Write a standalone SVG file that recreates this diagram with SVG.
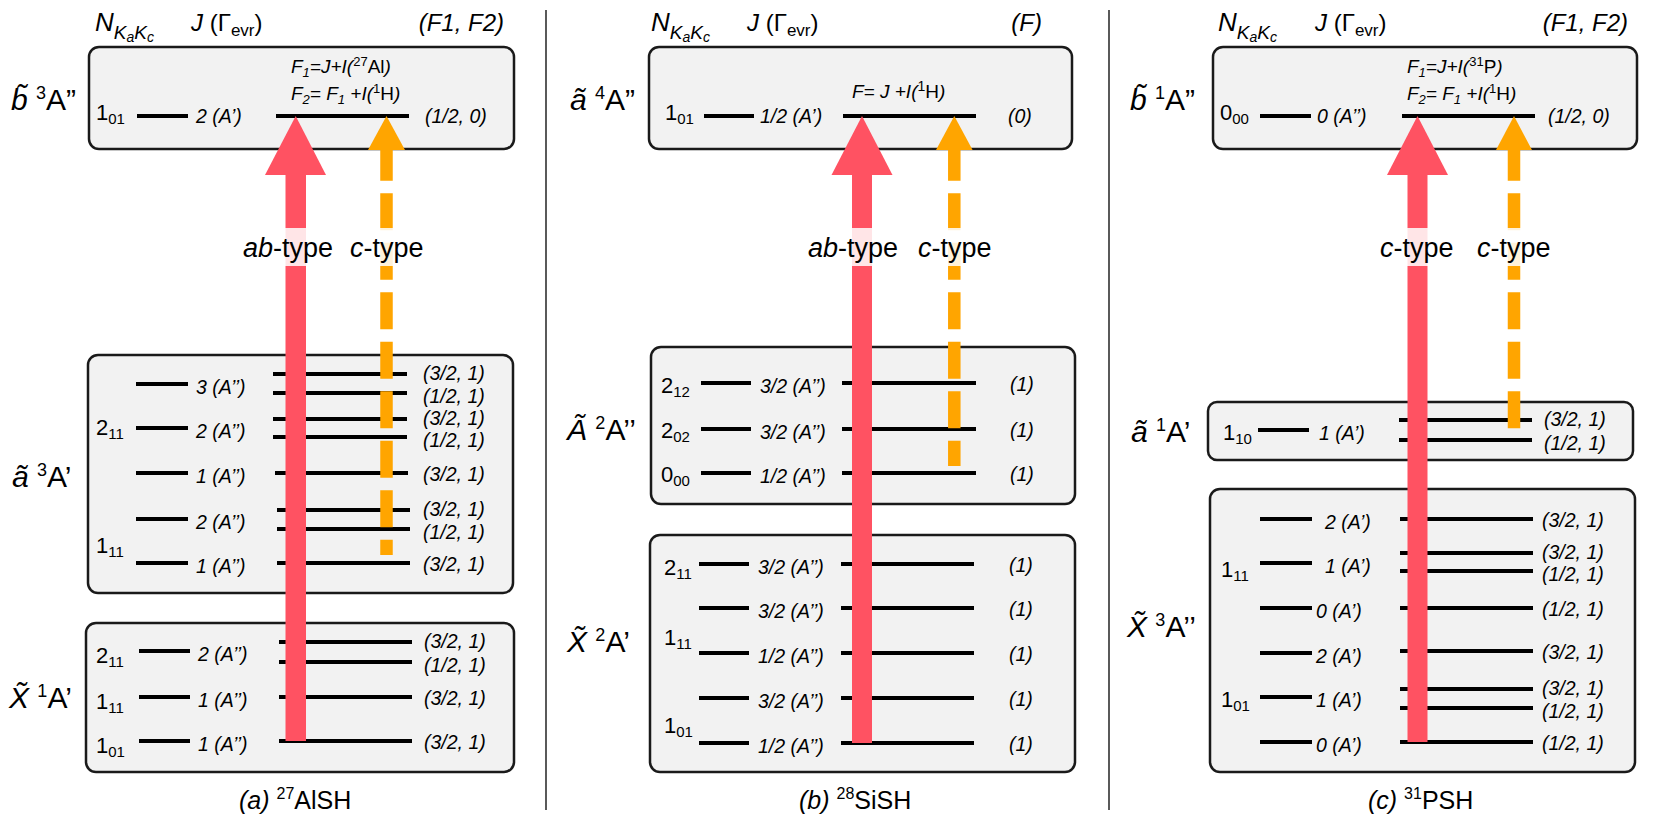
<svg xmlns="http://www.w3.org/2000/svg" width="1661" height="830" viewBox="0 0 1661 830">
<defs>
<style>
.box{fill:#F2F2F2;stroke:#1a1a1a;stroke-width:2.5}
.lv{stroke:#000;stroke-width:4}
.t{font-family:"Liberation Sans",Arial,sans-serif;fill:#000}
.i{font-style:italic}
.st{font-size:30px}
.hd{font-size:24px}
.lb{font-size:19.5px;font-style:italic}
.n{font-size:22px}
.cap{font-size:25px}
.fm{font-size:19px;font-style:italic}
.ty{font-size:27px}
.red{fill:#FF5262}
.org{fill:#FFA500}
.dash{stroke:#FFA500;stroke-width:12.5;stroke-dasharray:37 12.5;stroke-dashoffset:6.3;fill:none}
.bg{fill:#fff;fill-opacity:0.85}
.div{stroke:#000;stroke-width:1.3}
</style>
</defs>
<rect width="1661" height="830" fill="#fff"/>
<g id="dividers">
<line class="div" x1="546" y1="10" x2="546" y2="810"/>
<line class="div" x1="1109" y1="10" x2="1109" y2="810"/>
</g>

<!-- ================= PANEL A ================= -->
<g id="a-header">
<text class="t hd" x="95" y="31"><tspan class="i" font-size="26">N</tspan><tspan class="i" font-size="19" dy="8">K</tspan><tspan class="i" font-size="14" dy="3">a</tspan><tspan class="i" font-size="19" dy="-3">K</tspan><tspan class="i" font-size="14" dy="3">c</tspan></text>
<text class="t hd" x="191" y="31"><tspan class="i">J</tspan> (Γ<tspan font-size="17" dy="5">evr</tspan><tspan dy="-5">)</tspan></text>
<text class="t hd i" x="504" y="31" text-anchor="end">(F1, F2)</text>
</g>
<g id="a-b-state">
<rect class="box" x="89" y="47" width="425" height="102" rx="10"/>
<text class="t st" x="11" y="110"><tspan class="i">b̃</tspan> <tspan font-size="18" dy="-11">3</tspan><tspan dy="11">A”</tspan></text>
<text class="t fm" x="291" y="73">F<tspan font-size="13" dy="4">1</tspan><tspan dy="-4">=J+I(</tspan><tspan font-size="13" dy="-7" font-style="normal">27</tspan><tspan dy="7" font-style="normal">Al</tspan>)</text>
<text class="t fm" x="291" y="100">F<tspan font-size="13" dy="4">2</tspan><tspan dy="-4">= F</tspan><tspan font-size="13" dy="4">1</tspan><tspan dy="-4"> +I(</tspan><tspan font-size="13" dy="-7" font-style="normal">1</tspan><tspan dy="7" font-style="normal">H</tspan>)</text>
<text class="t n" x="96" y="120">1<tspan font-size="15" dy="4">01</tspan></text>
<line class="lv" x1="137" y1="116" x2="188" y2="116"/>
<text class="t lb" x="196" y="123">2 (A’)</text>
<line class="lv" x1="276" y1="116" x2="409" y2="116"/>
<text class="t lb" x="425" y="123">(1/2, 0)</text>
</g>
<g id="a-a-state">
<rect class="box" x="88" y="355" width="425" height="238" rx="10"/>
<text class="t st" x="12" y="487"><tspan class="i">ã</tspan> <tspan font-size="18" dy="-11">3</tspan><tspan dy="11">A’</tspan></text>
<text class="t n" x="96" y="435">2<tspan font-size="15" dy="4">11</tspan></text>
<text class="t n" x="96" y="553">1<tspan font-size="15" dy="4">11</tspan></text>
<line class="lv" x1="136" y1="384" x2="188" y2="384"/>
<line class="lv" x1="136" y1="428" x2="188" y2="428"/>
<line class="lv" x1="136" y1="473" x2="188" y2="473"/>
<line class="lv" x1="136" y1="519" x2="188" y2="519"/>
<line class="lv" x1="136" y1="563" x2="188" y2="563"/>
<text class="t lb" x="196" y="394">3 (A’’)</text>
<text class="t lb" x="196" y="438">2 (A’’)</text>
<text class="t lb" x="196" y="483">1 (A’’)</text>
<text class="t lb" x="196" y="529">2 (A’’)</text>
<text class="t lb" x="196" y="573">1 (A’’)</text>
<line class="lv" x1="273" y1="374" x2="407" y2="374"/>
<line class="lv" x1="273" y1="393" x2="407" y2="393"/>
<line class="lv" x1="273" y1="419" x2="407" y2="419"/>
<line class="lv" x1="273" y1="437" x2="407" y2="437"/>
<line class="lv" x1="275" y1="473" x2="408" y2="473"/>
<line class="lv" x1="277" y1="510" x2="410" y2="510"/>
<line class="lv" x1="277" y1="529" x2="410" y2="529"/>
<line class="lv" x1="277" y1="563" x2="410" y2="563"/>
<text class="t lb" x="423" y="380">(3/2, 1)</text>
<text class="t lb" x="423" y="403">(1/2, 1)</text>
<text class="t lb" x="423" y="425">(3/2, 1)</text>
<text class="t lb" x="423" y="447">(1/2, 1)</text>
<text class="t lb" x="423" y="481">(3/2, 1)</text>
<text class="t lb" x="423" y="516">(3/2, 1)</text>
<text class="t lb" x="423" y="539">(1/2, 1)</text>
<text class="t lb" x="423" y="571">(3/2, 1)</text>
</g>
<g id="a-X-state">
<rect class="box" x="86" y="623" width="428" height="149" rx="10"/>
<text class="t st" x="9" y="708"><tspan class="i">X̃</tspan> <tspan font-size="18" dy="-11">1</tspan><tspan dy="11">A’</tspan></text>
<text class="t n" x="96" y="663">2<tspan font-size="15" dy="4">11</tspan></text>
<text class="t n" x="96" y="709">1<tspan font-size="15" dy="4">11</tspan></text>
<text class="t n" x="96" y="753">1<tspan font-size="15" dy="4">01</tspan></text>
<line class="lv" x1="139" y1="651" x2="190" y2="651"/>
<line class="lv" x1="139" y1="697" x2="190" y2="697"/>
<line class="lv" x1="139" y1="741" x2="190" y2="741"/>
<text class="t lb" x="198" y="661">2 (A’’)</text>
<text class="t lb" x="198" y="707">1 (A’’)</text>
<text class="t lb" x="198" y="751">1 (A’’)</text>
<line class="lv" x1="279" y1="642" x2="412" y2="642"/>
<line class="lv" x1="279" y1="662" x2="412" y2="662"/>
<line class="lv" x1="279" y1="697" x2="412" y2="697"/>
<line class="lv" x1="279" y1="741" x2="412" y2="741"/>
<text class="t lb" x="424" y="648">(3/2, 1)</text>
<text class="t lb" x="424" y="672">(1/2, 1)</text>
<text class="t lb" x="424" y="705">(3/2, 1)</text>
<text class="t lb" x="424" y="749">(3/2, 1)</text>
</g>
<g id="a-caption">
<text class="t cap" x="239" y="809"><tspan class="i">(a)</tspan> <tspan font-size="16" dy="-10">27</tspan><tspan dy="10">AlSH</tspan></text>
</g>

<!-- ================= PANEL B ================= -->
<g id="b-header">
<text class="t hd" x="651" y="31"><tspan class="i" font-size="26">N</tspan><tspan class="i" font-size="19" dy="8">K</tspan><tspan class="i" font-size="14" dy="3">a</tspan><tspan class="i" font-size="19" dy="-3">K</tspan><tspan class="i" font-size="14" dy="3">c</tspan></text>
<text class="t hd" x="747" y="31"><tspan class="i">J</tspan> (Γ<tspan font-size="17" dy="5">evr</tspan><tspan dy="-5">)</tspan></text>
<text class="t hd i" x="1042" y="31" text-anchor="end">(F)</text>
</g>
<g id="b-a-state">
<rect class="box" x="649" y="47" width="423" height="102" rx="10"/>
<text class="t st" x="570" y="110"><tspan class="i">ã</tspan> <tspan font-size="18" dy="-11">4</tspan><tspan dy="11">A”</tspan></text>
<text class="t fm" x="852" y="98" font-size="20">F= J +I(<tspan font-size="14" dy="-7" font-style="normal">1</tspan><tspan dy="7" font-style="normal">H</tspan>)</text>
<text class="t n" x="665" y="120">1<tspan font-size="15" dy="4">01</tspan></text>
<line class="lv" x1="704" y1="116" x2="754" y2="116"/>
<text class="t lb" x="760" y="123">1/2 (A’)</text>
<line class="lv" x1="843" y1="116" x2="976" y2="116"/>
<text class="t lb" x="1008" y="123">(0)</text>
</g>
<g id="b-A-state">
<rect class="box" x="651" y="347" width="424" height="157" rx="10"/>
<text class="t st" x="567" y="440"><tspan class="i">Ã</tspan> <tspan font-size="18" dy="-11">2</tspan><tspan dy="11">A’’</tspan></text>
<text class="t n" x="661" y="393">2<tspan font-size="15" dy="4">12</tspan></text>
<text class="t n" x="661" y="438">2<tspan font-size="15" dy="4">02</tspan></text>
<text class="t n" x="661" y="482">0<tspan font-size="15" dy="4">00</tspan></text>
<line class="lv" x1="701" y1="383" x2="751" y2="383"/>
<line class="lv" x1="701" y1="429" x2="751" y2="429"/>
<line class="lv" x1="701" y1="473" x2="751" y2="473"/>
<text class="t lb" x="760" y="393">3/2 (A’’)</text>
<text class="t lb" x="760" y="439">3/2 (A’’)</text>
<text class="t lb" x="760" y="483">1/2 (A’’)</text>
<line class="lv" x1="842" y1="383" x2="976" y2="383"/>
<line class="lv" x1="842" y1="429" x2="976" y2="429"/>
<line class="lv" x1="842" y1="473" x2="976" y2="473"/>
<text class="t lb" x="1010" y="391">(1)</text>
<text class="t lb" x="1010" y="437">(1)</text>
<text class="t lb" x="1010" y="481">(1)</text>
</g>
<g id="b-X-state">
<rect class="box" x="650" y="535" width="425" height="237" rx="10"/>
<text class="t st" x="567" y="652"><tspan class="i">X̃</tspan> <tspan font-size="18" dy="-11">2</tspan><tspan dy="11">A’</tspan></text>
<text class="t n" x="664" y="575">2<tspan font-size="15" dy="4">11</tspan></text>
<text class="t n" x="664" y="645">1<tspan font-size="15" dy="4">11</tspan></text>
<text class="t n" x="664" y="733">1<tspan font-size="15" dy="4">01</tspan></text>
<line class="lv" x1="699" y1="564" x2="749" y2="564"/>
<line class="lv" x1="699" y1="608" x2="749" y2="608"/>
<line class="lv" x1="699" y1="653" x2="749" y2="653"/>
<line class="lv" x1="699" y1="698" x2="749" y2="698"/>
<line class="lv" x1="699" y1="743" x2="749" y2="743"/>
<text class="t lb" x="758" y="574">3/2 (A’’)</text>
<text class="t lb" x="758" y="618">3/2 (A’’)</text>
<text class="t lb" x="758" y="663">1/2 (A’’)</text>
<text class="t lb" x="758" y="708">3/2 (A’’)</text>
<text class="t lb" x="758" y="753">1/2 (A’’)</text>
<line class="lv" x1="841" y1="564" x2="974" y2="564"/>
<line class="lv" x1="841" y1="608" x2="974" y2="608"/>
<line class="lv" x1="841" y1="653" x2="974" y2="653"/>
<line class="lv" x1="841" y1="698" x2="974" y2="698"/>
<line class="lv" x1="841" y1="743" x2="974" y2="743"/>
<text class="t lb" x="1009" y="572">(1)</text>
<text class="t lb" x="1009" y="616">(1)</text>
<text class="t lb" x="1009" y="661">(1)</text>
<text class="t lb" x="1009" y="706">(1)</text>
<text class="t lb" x="1009" y="751">(1)</text>
</g>
<g id="b-caption">
<text class="t cap" x="799" y="809"><tspan class="i">(b)</tspan> <tspan font-size="16" dy="-10">28</tspan><tspan dy="10">SiSH</tspan></text>
</g>

<!-- ================= PANEL C ================= -->
<g id="c-header">
<text class="t hd" x="1218" y="31"><tspan class="i" font-size="26">N</tspan><tspan class="i" font-size="19" dy="8">K</tspan><tspan class="i" font-size="14" dy="3">a</tspan><tspan class="i" font-size="19" dy="-3">K</tspan><tspan class="i" font-size="14" dy="3">c</tspan></text>
<text class="t hd" x="1315" y="31"><tspan class="i">J</tspan> (Γ<tspan font-size="17" dy="5">evr</tspan><tspan dy="-5">)</tspan></text>
<text class="t hd i" x="1628" y="31" text-anchor="end">(F1, F2)</text>
</g>
<g id="c-b-state">
<rect class="box" x="1213" y="47" width="424" height="102" rx="10"/>
<text class="t st" x="1130" y="110"><tspan class="i">b̃</tspan> <tspan font-size="18" dy="-11">1</tspan><tspan dy="11">A”</tspan></text>
<text class="t fm" x="1407" y="73">F<tspan font-size="13" dy="4">1</tspan><tspan dy="-4">=J+I(</tspan><tspan font-size="13" dy="-7" font-style="normal">31</tspan><tspan dy="7" font-style="normal">P</tspan>)</text>
<text class="t fm" x="1407" y="100">F<tspan font-size="13" dy="4">2</tspan><tspan dy="-4">= F</tspan><tspan font-size="13" dy="4">1</tspan><tspan dy="-4"> +I(</tspan><tspan font-size="13" dy="-7" font-style="normal">1</tspan><tspan dy="7" font-style="normal">H</tspan>)</text>
<text class="t n" x="1220" y="120">0<tspan font-size="15" dy="4">00</tspan></text>
<line class="lv" x1="1260" y1="116" x2="1311" y2="116"/>
<text class="t lb" x="1317" y="123">0 (A’’)</text>
<line class="lv" x1="1402" y1="116" x2="1535" y2="116"/>
<text class="t lb" x="1548" y="123">(1/2, 0)</text>
</g>
<g id="c-a-state">
<rect class="box" x="1208" y="402" width="425" height="58" rx="9"/>
<text class="t st" x="1131" y="442"><tspan class="i">ã</tspan> <tspan font-size="18" dy="-11">1</tspan><tspan dy="11">A’</tspan></text>
<text class="t n" x="1223" y="440">1<tspan font-size="15" dy="4">10</tspan></text>
<line class="lv" x1="1258" y1="430" x2="1309" y2="430"/>
<text class="t lb" x="1319" y="440">1 (A’)</text>
<line class="lv" x1="1399" y1="420" x2="1532" y2="420"/>
<line class="lv" x1="1399" y1="440" x2="1532" y2="440"/>
<text class="t lb" x="1544" y="426">(3/2, 1)</text>
<text class="t lb" x="1544" y="450">(1/2, 1)</text>
</g>
<g id="c-X-state">
<rect class="box" x="1210" y="489" width="425" height="283" rx="10"/>
<text class="t st" x="1127" y="637"><tspan class="i">X̃</tspan> <tspan font-size="18" dy="-11">3</tspan><tspan dy="11">A’’</tspan></text>
<text class="t n" x="1221" y="577">1<tspan font-size="15" dy="4">11</tspan></text>
<text class="t n" x="1221" y="707">1<tspan font-size="15" dy="4">01</tspan></text>
<line class="lv" x1="1260" y1="519" x2="1312" y2="519"/>
<line class="lv" x1="1260" y1="563" x2="1312" y2="563"/>
<line class="lv" x1="1260" y1="608" x2="1312" y2="608"/>
<line class="lv" x1="1260" y1="653" x2="1312" y2="653"/>
<line class="lv" x1="1260" y1="697" x2="1312" y2="697"/>
<line class="lv" x1="1260" y1="742" x2="1312" y2="742"/>
<text class="t lb" x="1325" y="529">2 (A’)</text>
<text class="t lb" x="1325" y="573">1 (A’)</text>
<text class="t lb" x="1316" y="618">0 (A’)</text>
<text class="t lb" x="1316" y="663">2 (A’)</text>
<text class="t lb" x="1316" y="707">1 (A’)</text>
<text class="t lb" x="1316" y="752">0 (A’)</text>
<line class="lv" x1="1400" y1="519" x2="1533" y2="519"/>
<line class="lv" x1="1400" y1="553" x2="1533" y2="553"/>
<line class="lv" x1="1400" y1="571" x2="1533" y2="571"/>
<line class="lv" x1="1400" y1="608" x2="1533" y2="608"/>
<line class="lv" x1="1400" y1="651" x2="1533" y2="651"/>
<line class="lv" x1="1400" y1="689" x2="1533" y2="689"/>
<line class="lv" x1="1400" y1="708" x2="1533" y2="708"/>
<line class="lv" x1="1400" y1="742" x2="1533" y2="742"/>
<text class="t lb" x="1542" y="527">(3/2, 1)</text>
<text class="t lb" x="1542" y="559">(3/2, 1)</text>
<text class="t lb" x="1542" y="581">(1/2, 1)</text>
<text class="t lb" x="1542" y="616">(1/2, 1)</text>
<text class="t lb" x="1542" y="659">(3/2, 1)</text>
<text class="t lb" x="1542" y="695">(3/2, 1)</text>
<text class="t lb" x="1542" y="718">(1/2, 1)</text>
<text class="t lb" x="1542" y="750">(1/2, 1)</text>
</g>
<g id="c-caption">
<text class="t cap" x="1368" y="809"><tspan class="i">(c)</tspan> <tspan font-size="16" dy="-10">31</tspan><tspan dy="10">PSH</tspan></text>
</g>

<!-- ================= CONNECTORS ================= -->
<g id="connectors">
<!-- panel a -->
<rect class="red" x="285.5" y="174" width="20.5" height="567"/>
<polygon class="red" points="265,175 326,175 295.7,116"/>
<line class="dash" x1="386.5" y1="150" x2="386.5" y2="555"/>
<polygon class="org" points="368,150 405,150 386.5,116"/>
<!-- panel b -->
<rect class="red" x="852" y="174" width="20" height="569"/>
<polygon class="red" points="831.5,175 892.5,175 862,116"/>
<line class="dash" x1="954.3" y1="150" x2="954.3" y2="466"/>
<polygon class="org" points="936,150 972.6,150 954.3,116"/>
<!-- panel c -->
<rect class="red" x="1407.5" y="174" width="20" height="568"/>
<polygon class="red" points="1387,175 1448,175 1417.5,116"/>
<line class="dash" x1="1514" y1="150" x2="1514" y2="431"/>
<polygon class="org" points="1496,150 1532,150 1514,116"/>
</g>
<g id="transition-labels">
<rect class="bg" x="241" y="228" width="97" height="38"/>
<rect class="bg" x="347" y="228" width="78" height="38"/>
<text class="t ty" x="243" y="257"><tspan class="i">ab</tspan>-type</text>
<text class="t ty" x="350" y="257"><tspan class="i">c</tspan>-type</text>
<rect class="bg" x="806" y="228" width="97" height="38"/>
<rect class="bg" x="915" y="228" width="78" height="38"/>
<text class="t ty" x="808" y="257"><tspan class="i">ab</tspan>-type</text>
<text class="t ty" x="918" y="257"><tspan class="i">c</tspan>-type</text>
<rect class="bg" x="1378" y="228" width="78" height="38"/>
<rect class="bg" x="1475" y="228" width="78" height="38"/>
<text class="t ty" x="1380" y="257"><tspan class="i">c</tspan>-type</text>
<text class="t ty" x="1477" y="257"><tspan class="i">c</tspan>-type</text>
</g>
</svg>
